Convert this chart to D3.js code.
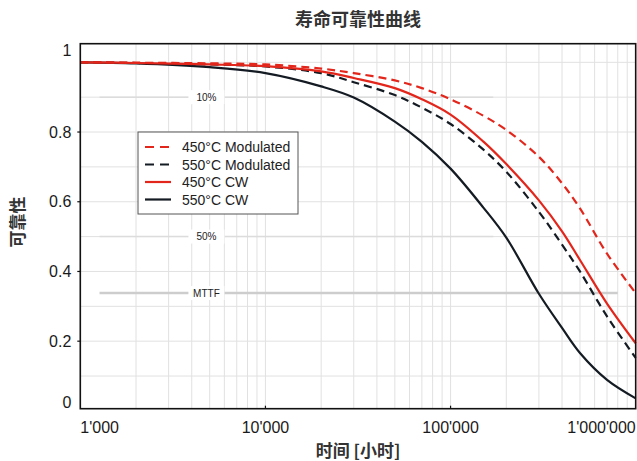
<!DOCTYPE html>
<html>
<head>
<meta charset="utf-8">
<script src="https://cdn.jsdelivr.net/npm/d3@7"></script>
<style>
  html, body { margin: 0; padding: 0; background: #fff; }
  svg { display: block; }
  .tick-label { font-family: 'Liberation Sans', Arial, sans-serif; font-size: 16px; fill: #1a1a1a; }
  .cjk { font-family: 'Noto Sans CJK SC', sans-serif; fill: #333; font-weight: 700; }
  .legend text { font-family: 'Liberation Sans', Arial, sans-serif; font-size: 14px; fill: #222; }
  .ref-label { font-family: 'Liberation Sans', Arial, sans-serif; font-size: 10px; fill: #222; }
</style>
</head>
<body>
<svg id="chart" width="637" height="461"></svg>
<script>
// Reliability vs. operating time, four lamp conditions, log time axis.
(function () {
    // time in hours
    var times = [1000, 2000, 5000, 10000, 20000, 30000, 50000, 70000, 100000,
                 150000, 200000, 300000, 400000, 500000, 700000, 1000000];

    // reliability at those times
    var r450Mod = [1.000, 0.999, 0.997, 0.994, 0.982, 0.969, 0.948, 0.926, 0.894,
                   0.847, 0.806, 0.729, 0.653, 0.581, 0.451, 0.338];
    var r550Mod = [1.000, 0.998, 0.994, 0.988, 0.969, 0.943, 0.906, 0.870, 0.823,
                   0.750, 0.686, 0.571, 0.477, 0.400, 0.271, 0.152];
    var r450CW  = [1.000, 0.998, 0.994, 0.989, 0.974, 0.955, 0.926, 0.894, 0.850,
                   0.773, 0.708, 0.604, 0.515, 0.433, 0.308, 0.194];
    var r550CW  = [1.000, 0.997, 0.986, 0.969, 0.931, 0.899, 0.830, 0.772, 0.695,
                   0.584, 0.497, 0.336, 0.238, 0.166, 0.089, 0.036];

    var seriesNames = ['450°C Modulated', '550°C Modulated', '450°C CW', '550°C CW'];

    var xTicks = [1000, 10000, 100000, 1000000];
    var xTickLabels = ["1'000", "10'000", "100'000", "1'000'000"];
    var yTicks = [0, 0.2, 0.4, 0.6, 0.8, 1];
    var yTickLabels = ['0', '0.2', '0.4', '0.6', '0.8', '1'];

    // reference levels: 10 % failed, 50 % failed, MTTF
    var refLabels = ['10%', '50%', 'MTTF'];
    var refLevels = [0.9, 0.5, 0.338];
    var refStart  = [1270, 1270, 1270];
    var refEnd    = [170000, 170000, 800000];
    var refLabelAt = 4800;

    var RED = '#e3261b';
    var DARK = '#141b23';
    var styles = [
        { color: RED,  dash: '8,5' },
        { color: DARK, dash: '8,5' },
        { color: RED,  dash: null },
        { color: DARK, dash: null }
    ];
    var seriesVals = [r450Mod, r550Mod, r450CW, r550CW];

    var svg = d3.select('#chart');
    var m = { top: 43.7, right: 1.3, bottom: 52.3, left: 80.3 };
    var W = 637, H = 461;
    var iw = W - m.left - m.right;
    var ih = H - m.top - m.bottom;

    var x = d3.scaleLog().domain([1000, 1000000]).range([m.left, m.left + iw]);
    var y = d3.scaleLinear().domain([0.0063, 1.0534]).range([m.top + ih, m.top]);

    // grid
    var grid = svg.append('g').attr('class', 'grid');
    var minor = [];
    [1000, 10000, 100000].forEach(function (dec) {
        for (var k = 1; k <= 9; k++) minor.push(dec * k);
    });
    minor.forEach(function (t) {
        grid.append('line')
            .attr('x1', x(t)).attr('x2', x(t))
            .attr('y1', m.top).attr('y2', m.top + ih)
            .attr('stroke', '#e1e1e1').attr('stroke-width', 1);
    });
    d3.range(1, 11).forEach(function (i) {
        var v = i / 10;
        grid.append('line')
            .attr('x1', m.left).attr('x2', m.left + iw)
            .attr('y1', y(v)).attr('y2', y(v))
            .attr('stroke', '#e1e1e1').attr('stroke-width', 1);
    });

    // reference lines with boxed labels
    refLevels.forEach(function (lv, i) {
        var isMttf = refLabels[i] === 'MTTF';
        svg.append('line')
            .attr('x1', x(refStart[i])).attr('x2', x(refEnd[i]))
            .attr('y1', y(lv)).attr('y2', y(lv))
            .attr('stroke', isMttf ? '#cdcdcd' : '#dcdcdc')
            .attr('stroke-width', isMttf ? 2.5 : 1.5);
        var lx = x(refLabelAt);
        svg.append('rect')
            .attr('x', lx - 18).attr('y', y(lv) - 7)
            .attr('width', 36).attr('height', 14)
            .attr('fill', '#fff');
        svg.append('text')
            .attr('class', 'ref-label')
            .attr('x', lx).attr('y', y(lv))
            .attr('text-anchor', 'middle')
            .attr('dominant-baseline', 'central')
            .text(refLabels[i]);
    });

    // curves
    var line = d3.line()
        .x(function (d) { return x(d[0]); })
        .y(function (d) { return y(d[1]); })
        .curve(d3.curveCatmullRom.alpha(0.5));
    [3, 1, 2, 0].forEach(function (si) {
        var pts = times.map(function (t, k) { return [t, seriesVals[si][k]]; });
        svg.append('path')
            .datum(pts)
            .attr('fill', 'none')
            .attr('stroke', styles[si].color)
            .attr('stroke-width', 2.2)
            .attr('stroke-dasharray', styles[si].dash)
            .attr('d', line);
    });

    // frame
    svg.append('rect')
        .attr('x', m.left).attr('y', m.top)
        .attr('width', iw).attr('height', ih)
        .attr('fill', 'none').attr('stroke', '#111').attr('stroke-width', 1.6);

    // y ticks + labels (end labels pushed inside the frame, like the original)
    yTicks.forEach(function (v, i) {
        var yy = y(v);
        var ly = yy;
        if (i === 0) ly = m.top + ih - 6;
        else if (i === yTicks.length - 1) ly = m.top + 6.5;
        else {
            svg.append('line')
                .attr('x1', m.left - 3).attr('x2', m.left)
                .attr('y1', yy).attr('y2', yy)
                .attr('stroke', '#111').attr('stroke-width', 1.2);
        }
        svg.append('text')
            .attr('class', 'tick-label')
            .attr('x', m.left - 9).attr('y', ly)
            .attr('text-anchor', 'end')
            .attr('dominant-baseline', 'central')
            .text(yTickLabels[i]);
    });

    // x ticks + labels
    xTicks.forEach(function (t, i) {
        var xx = x(t);
        if (i > 0 && i < xTicks.length - 1) {
            svg.append('line')
                .attr('x1', xx).attr('x2', xx)
                .attr('y1', m.top + ih - 3).attr('y2', m.top + ih)
                .attr('stroke', '#111').attr('stroke-width', 1.2);
        }
        var anchor = i === 0 ? 'start' : (i === xTicks.length - 1 ? 'end' : 'middle');
        svg.append('text')
            .attr('class', 'tick-label')
            .attr('x', xx).attr('y', 433)
            .attr('text-anchor', anchor)
            .text(xTickLabels[i]);
    });

    // titles
    svg.append('text')
        .attr('class', 'cjk')
        .attr('x', m.left + iw / 2).attr('y', 26)
        .attr('text-anchor', 'middle')
        .attr('font-size', 18)
        .text('寿命可靠性曲线');
    svg.append('text')
        .attr('class', 'cjk')
        .attr('x', m.left + iw / 2).attr('y', 457)
        .attr('text-anchor', 'middle')
        .attr('font-size', 17)
        .attr('font-weight', 500)
        .text('时间 [小时]');
    svg.append('text')
        .attr('class', 'cjk')
        .attr('transform', 'translate(24,' + 222 + ') rotate(-90)')
        .attr('text-anchor', 'middle')
        .attr('font-size', 17)
        .attr('font-weight', 500)
        .text('可靠性');

    // legend
    var lg = svg.append('g').attr('class', 'legend').attr('transform', 'translate(138,132)');
    lg.append('rect')
        .attr('width', 160).attr('height', 82)
        .attr('fill', '#fff').attr('stroke', '#555').attr('stroke-width', 1);
    seriesNames.forEach(function (name, i) {
        var ly = 15 + i * 17.5;
        lg.append('line')
            .attr('x1', 7).attr('x2', 33)
            .attr('y1', ly).attr('y2', ly)
            .attr('stroke', styles[i].color)
            .attr('stroke-width', 2.2)
            .attr('stroke-dasharray', styles[i].dash ? '9,6' : null);
        lg.append('text')
            .attr('x', 44).attr('y', ly)
            .attr('dominant-baseline', 'central')
            .text(name);
    });
})();
</script>
</body>
</html>
